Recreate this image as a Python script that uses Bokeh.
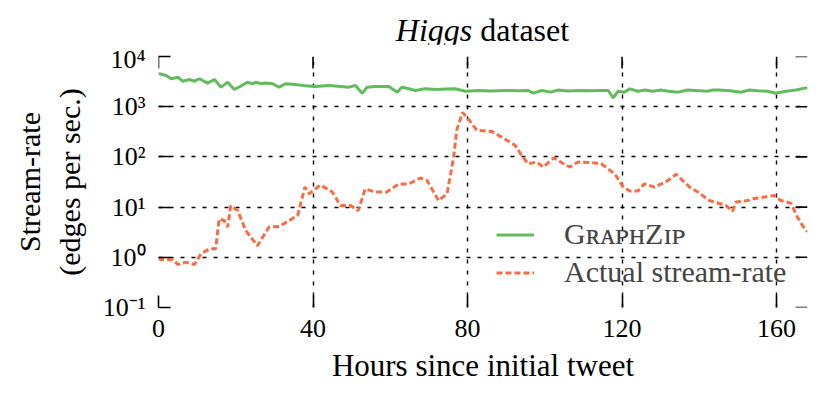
import math
from bokeh.plotting import figure
from bokeh.layouts import column
from bokeh.models import (FixedTicker, CustomJSTickFormatter, Legend, LegendItem, Range1d, Div)
from bokeh.embed import file_html
from bokeh.resources import INLINE

# ---- data -------------------------------------------------------------
title_italic = "Higgs"
title_rest = "dataset"
x_label = "Hours since initial tweet"
y_label = "Stream-rate\n(edges per sec.)"
series_names = ["G\u0280\u1d00\u1d18\u029cZ\u026a\u1d18", "Actual stream-rate"]
x_ticks = [0, 40, 80, 120, 160]
y_ticks = [0.1, 1, 10, 100, 1000, 10000]
x_min, x_max = 0, 168
y_min, y_max = 0.1, 10000

gz_hours = [0, 2, 3.3, 5, 6.3, 8, 9.3, 10.6, 12.7, 14.5, 16.2, 17.9, 19.6, 21, 23, 24.3,
            25.2, 26.5, 27.7, 29.5, 31.2, 32.9, 35.5, 38, 40.6, 44.1, 46.5, 49.3, 51, 52.7,
            54, 56, 59.6, 61.8, 63, 64.5, 66.5, 69, 72, 74.5, 76.8, 79.4, 82.8, 86, 90, 93,
            95.7, 97, 99.2, 101.5, 103.5, 106, 109, 112, 114.6, 116.4, 117.7, 119, 120.6,
            122, 124.1, 126, 128, 130, 132, 134.5, 137, 140, 142, 143.5, 145, 148, 150.8,
            153, 155, 157.7, 159.8, 162, 165, 168]
gz_rate = [4600, 4180, 3600, 3870, 3220, 3480, 3220, 3600, 2940, 3480, 2450, 3080, 2200,
           2500, 3080, 2860, 3080, 2860, 2970, 2860, 2450, 2860, 2770, 2600, 2520, 2640,
           2550, 2450, 2640, 1860, 2450, 2520, 2520, 1950, 2450, 2300, 2100, 2270, 2200,
           2250, 2270, 2030, 2100, 2050, 2100, 2080, 2100, 1860, 2100, 1950, 2150, 2050,
           2100, 2080, 2100, 2100, 1500, 2030, 1950, 2270, 2030, 2150, 2030, 2150, 2030,
           1950, 2150, 2080, 2030, 2150, 2150, 2080, 1950, 2150, 2080, 2030, 1860, 2000,
           2150, 2400]

act_hours = [0, 0.7, 3.7, 5, 7.1, 9.3, 11, 13.2, 14.8, 15.7, 17, 17.9, 18.7, 20.5, 22.6,
             25.6, 28.6, 31.2, 33.8, 36, 37.9, 39, 41.9, 45, 47.1, 49.7, 51.7, 53.5, 56.1,
             59.1, 62.2, 64.8, 67.8, 69.5, 72.5, 74.7, 76.4, 77.2, 78.7, 80.2, 82.4, 86.3,
             88.9, 92.3, 94, 95.7, 97.9, 99.6, 102.4, 104.8, 106.5, 108.6, 112.9, 114.6,
             118.1, 120.3, 122, 124.1, 125.8, 128.4, 131.4, 134, 137.5, 139.6, 142.6, 145.2,
             146.9, 148.6, 149.5, 152.5, 154.2, 157.2, 159.4, 161.1, 163.7, 165.4, 166.7, 168]
act_rate = [0.95, 0.89, 0.9, 0.72, 0.8, 0.72, 1.17, 1.48, 1.48, 5.8, 5.4, 4, 10.7, 8.5, 3.4,
            1.7, 4, 4.1, 5.4, 6.8, 25, 18.5, 27.5, 20, 10.7, 10.7, 8.5, 23, 20, 20, 29, 29,
            38, 34, 13.5, 18.5, 98, 340, 770, 570, 340, 320, 245, 170, 107, 73, 79, 63, 96,
            73, 63, 79, 76, 73, 46, 25, 21, 21, 29, 25, 32, 45, 25, 20, 13.5, 11.8, 10.7,
            8.3, 12.6, 13.5, 14.8, 16, 17, 13.5, 12, 6.3, 4.3, 3.2]

# ---- styling ------------------------------------------------------------
FONT = "Liberation Serif"
GREEN = "#62bb5c"
ORANGE = "#f96d45"
TICK_LEN = 12
BORDER_L, BORDER_R = 158, 14
FRAME_W, FRAME_H = 649, 251
FIG_W = BORDER_L + FRAME_W + BORDER_R

p = figure(frame_width=FRAME_W, frame_height=FRAME_H, y_axis_type="log",
           x_range=Range1d(x_min, x_max), y_range=Range1d(y_min, y_max),
           output_backend="svg", toolbar_location=None,
           min_border_left=BORDER_L, min_border_right=BORDER_R, min_border_top=12,
           min_border_bottom=80)
p.outline_line_color = None
p.background_fill_color = "white"

xt = FixedTicker(ticks=x_ticks, minor_ticks=[])
yt = FixedTicker(ticks=y_ticks, minor_ticks=[])
yfmt = CustomJSTickFormatter(code="""
const e = Math.round(Math.log10(tick));
const m = {'-':'\u207b','0':'\u2070','1':'\u00b9','2':'\u00b2','3':'\u00b3','4':'\u2074',
           '5':'\u2075','6':'\u2076','7':'\u2077','8':'\u2078','9':'\u2079'};
return '10' + String(e).split('').map(c => m[c]).join('');
""")

p.xaxis.ticker = xt
p.yaxis.ticker = yt
p.yaxis.formatter = yfmt

for ax in p.xaxis + p.yaxis:
    ax.axis_line_color = None
    ax.major_tick_in = TICK_LEN
    ax.major_tick_out = 0
    ax.major_tick_line_width = 1.6
    ax.major_tick_line_color = "black"
    ax.minor_tick_line_color = None
    ax.major_label_text_font = FONT
    ax.major_label_text_font_size = "26px"
    ax.major_label_text_color = "black"
    ax.axis_label_text_font = FONT
    ax.axis_label_text_font_size = "30px"
    ax.axis_label_text_font_style = "normal"
    ax.axis_label_text_color = "black"
p.xaxis.major_label_standoff = 12
p.yaxis.major_label_standoff = 13
p.xaxis.axis_label = x_label
p.yaxis.axis_label = y_label
p.xaxis.axis_label_text_font_size = "31px"
p.xaxis.axis_label_standoff = 8
p.yaxis.axis_label_standoff = 14

# tick marks on the right and top edges (mirrors of the left/bottom ticks)
p.ray(x=[x_max] * len(y_ticks), y=y_ticks, length=TICK_LEN, length_units="screen",
      angle=math.pi, line_color="black", line_width=1.6)
p.ray(x=x_ticks, y=[y_max] * len(x_ticks), length=TICK_LEN, length_units="screen",
      angle=-math.pi / 2, line_color="black", line_width=1.6)

for g in (p.xgrid, p.ygrid):
    g.grid_line_color = "black"
    g.grid_line_dash = "4 7"
    g.grid_line_width = 1.4
p.xgrid.ticker = xt
p.ygrid.ticker = yt

r1 = p.line(gz_hours, gz_rate, line_color=GREEN, line_width=3)
r2 = p.line(act_hours, act_rate, line_color=ORANGE, line_width=3, line_dash="6 3")

legend = Legend(items=[LegendItem(label=series_names[0], renderers=[r1]),
                       LegendItem(label=series_names[1], renderers=[r2])],
                location=(338, 18), padding=0, margin=0, spacing=4,
                glyph_width=38, glyph_height=33, label_standoff=30,
                label_text_font=FONT, label_text_font_size="30px",
                background_fill_alpha=0, border_line_color=None)
p.add_layout(legend)

pad_left = BORDER_L - BORDER_R
title_html = (
    f'<div style="font-family:\'{FONT}\';font-size:32px;color:black;'
    f'width:{FIG_W}px;box-sizing:border-box;padding-left:{pad_left}px;'
    f'padding-top:12px;text-align:center;line-height:normal;white-space:nowrap">'
    f'<i>{title_italic}</i> {title_rest}</div>'
)
title_div = Div(text=title_html, width=FIG_W, height=44, margin=0)

layout = column(title_div, p, spacing=0, margin=0)
open("out.html", "w").write(file_html(layout, INLINE))
